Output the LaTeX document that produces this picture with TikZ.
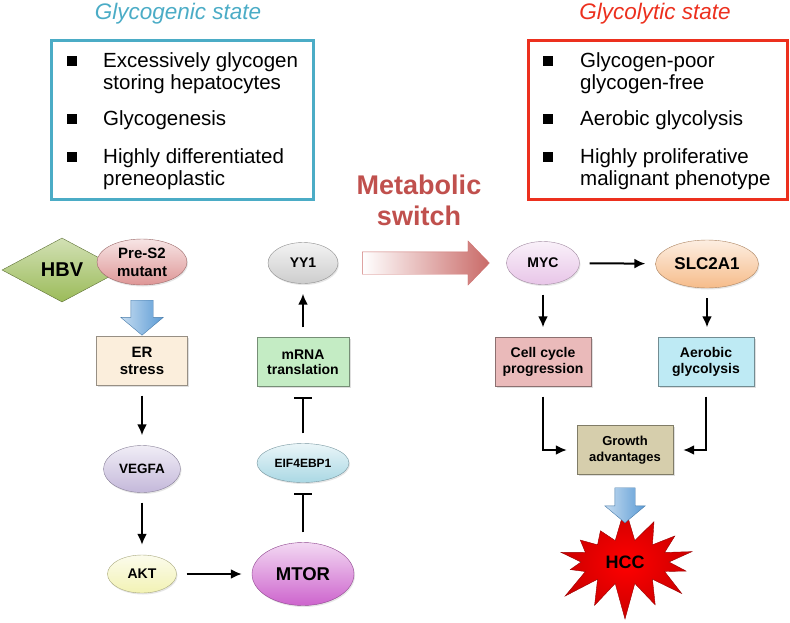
\documentclass[tikz,border=0pt]{standalone}
\usepackage{fontspec}
\setmainfont{Liberation Sans}
\usetikzlibrary{positioning,shapes.geometric,shapes.arrows,shapes.symbols,arrows.meta,shadows}

\definecolor{glycyan}{RGB}{75,172,198}
\definecolor{glyred}{RGB}{236,48,30}
\definecolor{switchred}{RGB}{192,80,77}
\definecolor{hbvgreen}{RGB}{155,187,89}
\definecolor{pretwopink}{RGB}{222,150,150}
\definecolor{ercream}{RGB}{251,238,220}
\definecolor{vegfalilac}{RGB}{196,184,218}
\definecolor{aktyellow}{RGB}{242,242,180}
\definecolor{mtorviolet}{RGB}{205,100,205}
\definecolor{eifblue}{RGB}{170,216,228}
\definecolor{mrnagreen}{RGB}{196,236,196}
\definecolor{yygray}{RGB}{205,205,205}
\definecolor{mycpink}{RGB}{232,198,232}
\definecolor{slcpeach}{RGB}{246,188,138}
\definecolor{cellpink}{RGB}{234,186,186}
\definecolor{aerblue}{RGB}{190,234,244}
\definecolor{growthtan}{RGB}{214,206,172}
\definecolor{arrowblue}{RGB}{91,155,213}

\newcommand{\sz}[2]{\fontsize{#1}{#2}\selectfont}

\tikzset{
	statebox/.style={draw=#1, line width=3pt},
	title/.style={font=\itshape\sz{22.5}{26}, anchor=base},
	item/.style={font=\sz{20.5}{22}, align=left, anchor=north west, inner sep=0pt},
	bul/.style={fill=black, minimum size=10pt, inner sep=0pt},
	gene/.style={ellipse, draw=#1!70!black, top color=#1!25!white, bottom color=#1,
		inner sep=0pt, align=center,
		drop shadow={shadow xshift=1pt, shadow yshift=-1.5pt, opacity=0.2}},
	procbox/.style={rectangle, draw=#1!60!black, fill=#1, inner sep=0pt, align=center,
		minimum width=94pt, minimum height=49pt,
		drop shadow={shadow xshift=1.5pt, shadow yshift=-1.5pt, opacity=0.25}},
	act/.style={-{Latex[length=11pt,width=10pt]}, line width=2pt, shorten <=10pt, shorten >=10pt},
	inh/.style={-{Bar[width=18pt]}, line width=2pt, shorten <=10pt, shorten >=10pt},
	fatarrow/.style={single arrow, rotate=-90, draw=arrowblue!80!black,
		left color=arrowblue!35!white, right color=arrowblue, inner sep=11pt,
		minimum height=35pt, single arrow head extend=10pt, single arrow tip angle=100},
}

\begin{document}
\begin{tikzpicture}[x=1pt,y=-1pt]
	\useasboundingbox (0,0) rectangle (790,622);

	% glycogenic state
	\node[title, text=glycyan] (gentitle) at (178,19) {Glycogenic state};
	\draw[statebox=glycyan] (51,40) rectangle (313,199);
	\node[bul] (genb1) at (72,61) {};
	\node[item] (geni1) at (103,52) {Excessively glycogen\\storing hepatocytes};
	\node[bul] (genb2) at (72,119) {};
	\node[item] (geni2) at (103,110) {Glycogenesis};
	\node[bul] (genb3) at (72,157) {};
	\node[item] (geni3) at (103,148) {Highly differentiated\\preneoplastic};

	% glycolytic state
	\node[title, text=glyred] (lyttitle) at (655,19) {Glycolytic state};
	\draw[statebox=glyred] (528,40) rectangle (787,199);
	\node[bul] (lytb1) at (548,61) {};
	\node[item] (lyti1) at (580,52) {Glycogen-poor\\glycogen-free};
	\node[bul] (lytb2) at (548,119) {};
	\node[item] (lyti2) at (580,110) {Aerobic glycolysis};
	\node[bul] (lytb3) at (548,157) {};
	\node[item] (lyti3) at (580,148) {Highly proliferative\\malignant phenotype};

	\node[font=\bfseries\sz{27}{31}, text=switchred, align=center] (switch) at (419,200) {Metabolic\\switch};

	% left pathway
	\node[diamond, minimum width=120pt, minimum height=64pt, inner sep=0pt,
		draw=hbvgreen!60!black, top color=hbvgreen!45!white, bottom color=hbvgreen,
		font=\bfseries\sz{20}{22}] (hbv) at (62,270) {HBV};
	\node[gene=pretwopink, minimum width=90pt, minimum height=46pt, font=\bfseries\sz{15}{18}] (pres2) at (142,262) {Pre-S2\\mutant};
	\node[procbox=ercream, minimum width=91pt, font=\bfseries\sz{15}{17}] (er) at (142,361) {ER\\stress};
	\node[fatarrow] (bluea) at (142,313) {};
	\node[gene=vegfalilac, minimum width=77pt, minimum height=47pt, font=\bfseries\sz{13.5}{15}] (vegfa) at (142,469) {VEGFA};
	\node[gene=aktyellow, minimum width=69pt, minimum height=38pt, font=\bfseries\sz{14}{16}] (akt) at (142,574) {AKT};
	\node[gene=mtorviolet, minimum width=102pt, minimum height=63pt, font=\bfseries\sz{18.5}{20}] (mtor) at (303,574) {MTOR};
	\node[gene=eifblue, minimum width=92pt, minimum height=39pt, font=\bfseries\sz{12}{14}] (eif) at (303,463) {EIF4EBP1};
	\node[procbox=mrnagreen, minimum width=92pt, font=\bfseries\sz{14}{15}] (mrna) at (303,362) {mRNA\\translation};
	\node[gene=yygray, minimum width=70pt, minimum height=41pt, font=\bfseries\sz{14}{16}] (yy1) at (303,263) {YY1};

	\draw[act] (er) -- (vegfa);
	\draw[act] (vegfa) -- (akt);
	\draw[act] (akt) -- (mtor);
	\draw[inh] (mtor) -- (eif);
	\draw[inh] (eif) -- (mrna);
	\draw[act] (mrna) -- (yy1);

	% switch
	\node[single arrow, minimum height=127pt, minimum width=44pt, inner sep=11pt,
		single arrow head extend=11pt, single arrow tip angle=92,
		draw=switchred!80, left color=white, right color=switchred!85] (swarrow) at (420.5,263) {};

	% right pathway
	\node[gene=mycpink, minimum width=73pt, minimum height=43pt, font=\bfseries\sz{14}{16}] (myc) at (543,263) {MYC};
	\node[gene=slcpeach, minimum width=103pt, minimum height=48pt, font=\bfseries\sz{17}{19}] (slc) at (707,264) {SLC2A1};
	\node[procbox=cellpink, minimum width=96pt, font=\bfseries\sz{14}{16}] (cell) at (543,362) {Cell cycle\\progression};
	\node[procbox=aerblue, minimum width=96pt, font=\bfseries\sz{14}{16}] (aer) at (706,362) {Aerobic\\glycolysis};
	\node[procbox=growthtan, minimum width=96pt, font=\bfseries\sz{13}{16}] (growth) at (625,450) {Growth\\advantages};
	\node[starburst, starburst points=14, starburst point height=36pt, random starburst=7,
		minimum width=160pt, minimum height=116pt, inner sep=0pt,
		draw=red!60!black, inner color=red, outer color=red!80!black,
		font=\bfseries\sz{18}{20}] (hcc) at (625,562) {HCC};
	\node[fatarrow, inner sep=10pt] (blueb) at (625,501) {};

	\draw[act] (myc) -- (slc);
	\draw[act] (myc) -- (cell);
	\draw[act] (slc.south) -- (slc.south |- aer.north);
	\draw[act] (cell.south) |- (growth.west);
	\draw[act] (aer.south) |- (growth.east);
\end{tikzpicture}
\end{document}
